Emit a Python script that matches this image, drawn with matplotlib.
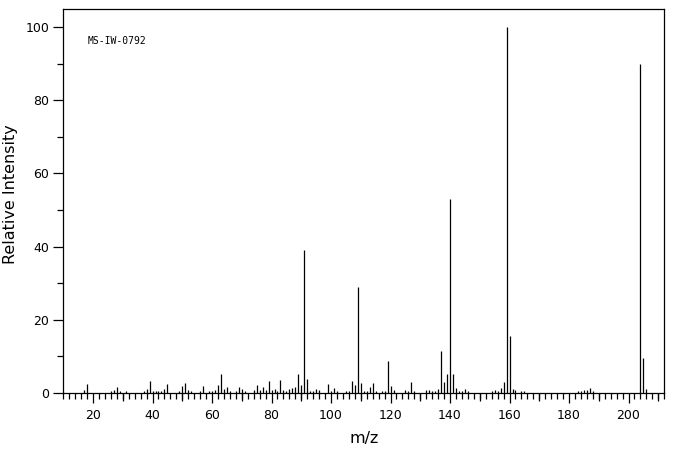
import numpy as np

import matplotlib as mpl
mpl.use('Agg')
import matplotlib.pyplot as plt
from matplotlib.ticker import MultipleLocator, FixedLocator


mz = [17, 18, 26, 27, 28, 29, 31, 37, 38, 39, 40, 41, 42, 43, 44, 45,
      49, 50, 51, 52, 53, 56, 57, 59, 60, 61, 62, 63, 64, 65, 66, 68,
      69, 70, 71, 74, 75, 76, 77, 78, 79, 80, 81, 82, 83, 84, 85, 86,
      87, 88, 89, 90, 91, 92, 93, 94, 95, 96, 99, 100, 101, 102, 105, 106,
      107, 108, 109, 110, 111, 112, 113, 114, 115, 117, 118, 119, 120, 121, 125, 126,
      127, 128, 132, 133, 134, 135, 136, 137, 138, 139, 140, 141, 142, 143, 144, 145,
      146, 154, 155, 156, 157, 158, 159, 160, 161, 162, 164, 165, 183, 184, 185, 186,
      187, 188, 204, 205, 206]

intensity = [0.6, 2.3, 0.4, 0.8, 1.5, 0.4, 0.4, 0.4, 0.9, 3.1, 0.4, 0.4, 0.4, 0.4, 0.9, 2.3,
             0.4, 1.7, 2.6, 0.6, 0.4, 0.4, 1.7, 0.4, 0.4, 0.6, 2.0, 5.0, 0.9, 1.5, 0.4, 0.4,
             1.5, 0.9, 0.4, 0.6, 2.0, 0.6, 1.5, 0.6, 3.1, 0.6, 0.9, 0.4, 3.4, 0.6, 0.4, 0.9,
             1.2, 1.5, 5.0, 2.0, 39.0, 3.7, 0.4, 0.4, 0.9, 0.6, 2.3, 0.4, 1.2, 0.4, 0.4, 0.4,
             3.1, 2.0, 28.8, 2.6, 0.4, 0.4, 1.5, 2.6, 0.4, 0.4, 0.4, 8.6, 1.7, 0.6, 0.6, 0.4,
             2.8, 0.4, 0.6, 0.6, 0.4, 0.4, 0.9, 11.3, 2.8, 5.0, 53.0, 5.0, 1.2, 0.4, 0.4, 0.9,
             0.4, 0.4, 0.6, 0.4, 1.2, 2.8, 100.0, 15.4, 0.9, 0.6, 0.4, 0.4, 0.4, 0.4, 0.6, 0.6,
             1.2, 0.4, 90.0, 9.4, 0.9]

spectrum_id = 'MS-IW-0792'


def main():
    fig = plt.figure(figsize=(6.76, 4.55), dpi=100)
    ax = fig.add_axes([0.0936, 0.137, 0.889, 0.843])

    ax.vlines(mz, 0, intensity, colors='black', linewidth=0.9)

    ax.set_xlim(10, 212)
    ax.set_ylim(0, 105)

    ax.xaxis.set_major_locator(MultipleLocator(20))
    ax.xaxis.set_minor_locator(MultipleLocator(2))
    ax.yaxis.set_major_locator(MultipleLocator(20))
    ax.yaxis.set_minor_locator(MultipleLocator(10))
    ax.tick_params(which='major', direction='out', length=7, width=0.9,
                   labelsize=9, pad=5)
    ax.tick_params(which='minor', direction='out', length=4, width=0.9)
    ax.tick_params(axis='y', which='major', pad=3)

    # the 10-unit ticks on the m/z axis are a bit longer than the 2-unit ones
    sec = ax.secondary_xaxis('bottom')
    sec.xaxis.set_major_locator(FixedLocator(np.arange(30, 212, 20)))
    sec.tick_params(which='major', direction='out', length=5.5, width=0.9, labelbottom=False)
    sec.spines['bottom'].set_visible(False)

    for s in ax.spines.values():
        s.set_linewidth(0.9)

    ax.set_xlabel('m/z', fontsize=11.5, labelpad=6)
    fig.text(0.015, 0.574, 'Relative Intensity', rotation=90, fontsize=11.5,
             ha='center', va='center')

    ax.text(0.04, 0.917, spectrum_id, transform=ax.transAxes, fontsize=7,
            family='DejaVu Sans Mono', va='center', ha='left')

    plt.savefig('out.png', dpi=100)


if __name__ == '__main__':
    main()
